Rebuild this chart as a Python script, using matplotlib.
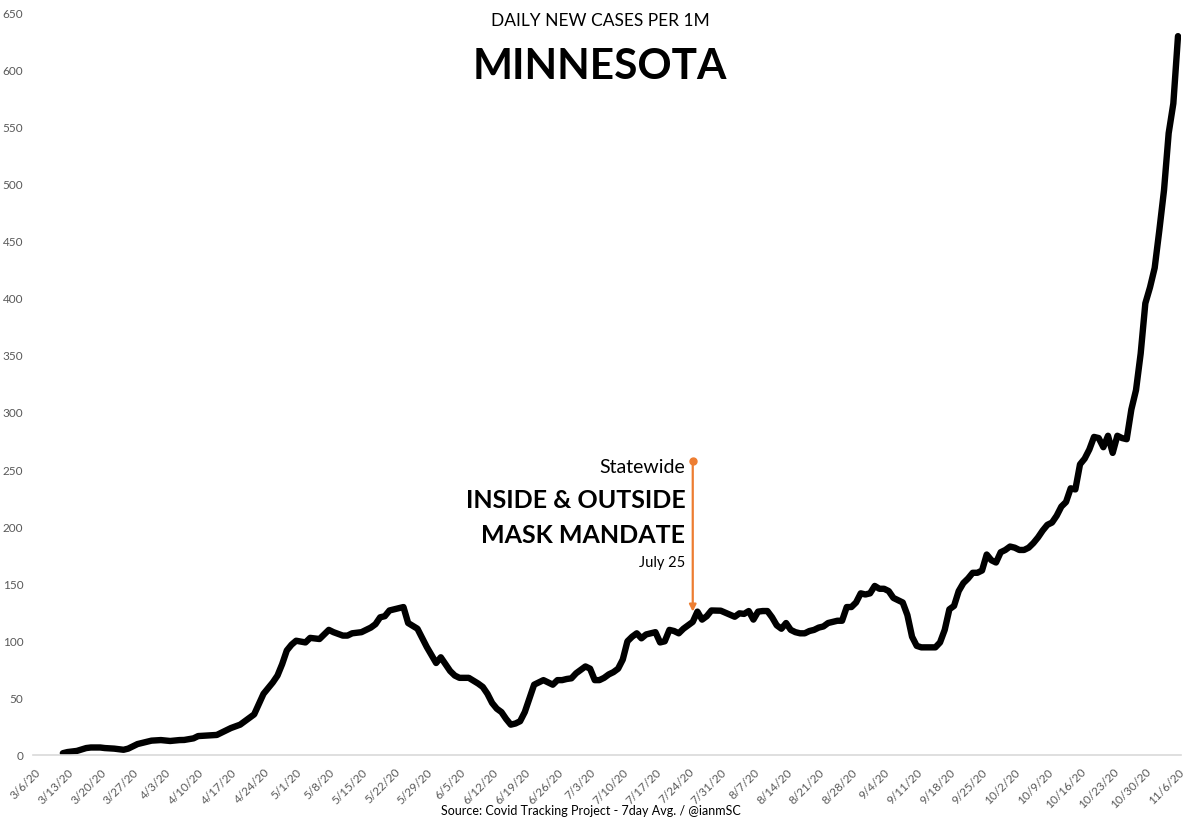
import pandas as pd
import matplotlib
matplotlib.use("Agg")
import matplotlib.pyplot as plt

# days since 3/6/20 and 7-day avg daily new cases per 1M
days = [6, 7, 9, 11, 12, 14, 15, 17, 19, 20, 22, 24, 25, 27, 29, 31, 32, 34, 35, 37,
        39, 41, 42, 44, 45, 47, 49, 51, 52, 53, 54, 55, 56, 58, 59, 61, 63, 64, 66, 67,
        68, 70, 72, 73, 74, 75, 76, 77, 79, 80, 82, 84, 85, 86, 87, 89, 90, 91, 93, 95,
        96, 97, 98, 99, 100, 101, 102, 103, 104, 105, 106, 107, 108, 109, 110, 111, 112, 113, 114, 115,
        116, 117, 118, 119, 120, 121, 122, 123, 124, 125, 126, 127, 128, 129, 130, 131, 132, 133, 134, 135,
        136, 137, 138, 139, 140, 141, 142, 143, 144, 145, 147, 148, 150, 151, 152, 153, 154, 155, 156, 157,
        158, 159, 160, 161, 162, 163, 164, 165, 166, 167, 168, 169, 170, 171, 172, 173, 174, 175, 176, 177,
        178, 179, 180, 181, 182, 183, 184, 185, 186, 187, 188, 189, 190, 191, 192, 193, 194, 195, 196, 197,
        198, 199, 200, 201, 202, 203, 204, 205, 206, 207, 208, 209, 210, 211, 212, 213, 214, 215, 216, 217,
        218, 219, 220, 221, 222, 223, 224, 225, 226, 227, 228, 229, 230, 231, 232, 233, 234, 235, 236, 237,
        238, 239, 240, 241, 242, 243, 244, 245]
cases = [2, 3, 4, 6.5, 7, 7, 6.5, 6, 5, 6, 10, 12, 13, 13.5, 12.7, 13.5, 13.6, 15, 17, 17.5,
         18, 22, 24, 27, 30, 36, 54, 64, 70, 80, 92, 97, 100.5, 99, 103, 102, 110, 108, 105, 105,
         107, 108, 112, 115, 121, 122, 127, 128, 130, 116, 111, 95, 88, 81, 86, 74, 70, 68, 68, 63,
         60, 54, 46, 41, 38, 32, 27, 28, 30, 38, 50, 62, 64, 66, 64, 62, 66, 66, 67, 67.6,
         72, 75, 78, 76, 66, 66, 68, 71, 73, 76, 84, 100, 104, 107, 102.6, 106, 107, 108, 99, 100,
         110, 109, 107, 111, 114, 117, 126, 119, 122, 127, 126.8, 125, 121.5, 124.5, 124, 126.5, 119, 126, 126.5, 126.5,
         121, 114, 111, 116, 110, 108, 107, 107, 109, 110, 112, 113, 116, 117, 118, 118, 130, 130, 134, 142,
         141, 142, 148.5, 146, 146, 144, 138, 136, 134, 123, 104, 96, 94.7, 94.7, 94.7, 94.7, 99, 110, 128, 131,
         144, 151, 155, 160, 160, 162, 176, 171, 169, 178, 180, 183, 182, 180, 180, 182, 186, 191, 197, 202,
         204, 210, 218, 222, 234, 233, 255, 260, 268, 279, 278, 270, 280, 265, 280, 278, 277, 303, 320, 352,
         396, 410, 427, 460, 495, 545, 571, 630]

start = pd.Timestamp("2020-03-06")
tick_dates = pd.date_range("2020-03-06", "2020-11-06", freq="7D")
tick_pos = [(d - start).days for d in tick_dates]
tick_labels = [f"{d.month}/{d.day}/{d.strftime('%y')}" for d in tick_dates]
y_ticks = list(range(0, 651, 50))

mandate_day = (pd.Timestamp("2020-07-25") - start).days
mandate_top = 258
mandate_bottom = 126

plt.rcParams['font.family'] = ['Lato', 'DejaVu Sans']

fig = plt.figure(figsize=(12, 8.21), dpi=100)
ax = fig.add_axes([0.0275, 0.0798, 0.9565, 0.904])

ax.plot(days, cases, color='black', linewidth=4.6, solid_joinstyle='round', solid_capstyle='round')

ax.set_xlim(-0.4, 245.6)
ax.set_ylim(0, 650)
ax.set_xticks(tick_pos)
ax.set_xticklabels(tick_labels, rotation=45, ha='right', rotation_mode='anchor',
                   fontsize=8.5, color='#595959')
ax.set_yticks(y_ticks)
ax.set_yticklabels([str(v) for v in y_ticks], fontsize=8.5, color='#595959')
ax.tick_params(axis='both', length=0)
ax.tick_params(axis='x', pad=8)
ax.tick_params(axis='y', pad=7)
for side in ['top', 'right', 'left']:
    ax.spines[side].set_visible(False)
ax.spines['bottom'].set_color('#D9D9D9')
ax.spines['bottom'].set_linewidth(1.2)

# mandate annotation
orange = '#ED7D31'
ax.annotate('', xy=(mandate_day, mandate_bottom), xytext=(mandate_day, mandate_top),
            arrowprops=dict(arrowstyle='-|>', color=orange, lw=1.6, mutation_scale=10,
                            shrinkA=0, shrinkB=0))
ax.plot([mandate_day], [mandate_top], 'o', color=orange, markersize=5)
tx = mandate_day - 1.6
ax.text(tx, 252, 'Statewide', ha='right', va='center', fontsize=14, color='black')
ax.text(tx, 223, 'INSIDE & OUTSIDE', ha='right', va='center', fontsize=18, fontweight='bold')
ax.text(tx, 193, 'MASK MANDATE', ha='right', va='center', fontsize=18, fontweight='bold')
ax.text(tx, 169, 'July 25', ha='right', va='center', fontsize=10.5)

fig.text(0.5, 0.975, 'DAILY NEW CASES PER 1M', ha='center', va='center', fontsize=12.5)
fig.text(0.5, 0.918, 'MINNESOTA', ha='center', va='center', fontsize=30.5, fontweight='bold')
fig.text(0.492, 0.012, 'Source: Covid Tracking Project - 7day Avg. / @ianmSC',
         ha='center', va='center', fontsize=9)

fig.savefig('out.png', dpi=100, facecolor='white')
